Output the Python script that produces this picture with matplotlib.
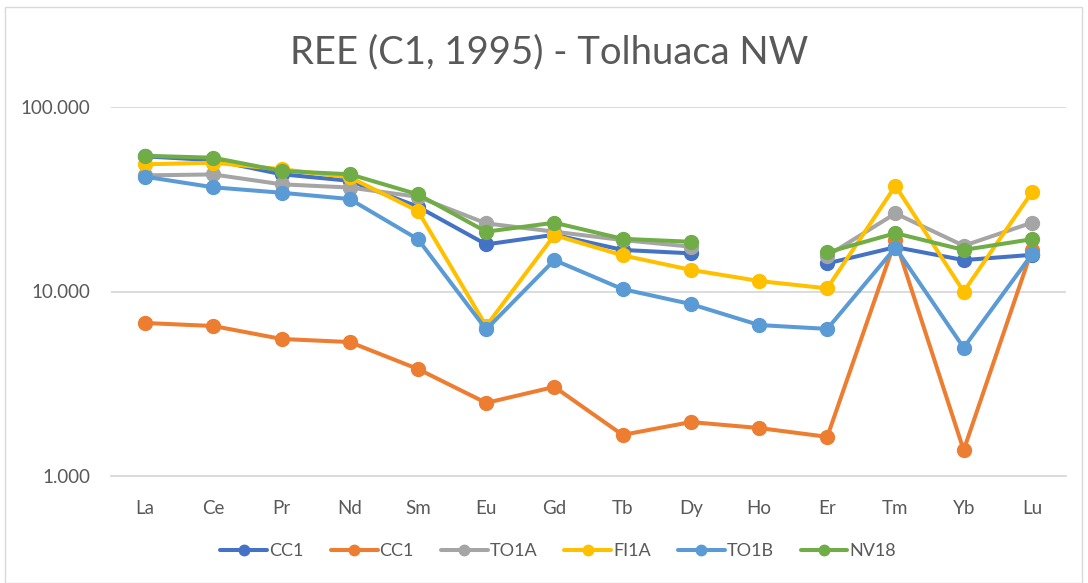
import numpy as np
import matplotlib
matplotlib.use('Agg')
import matplotlib.pyplot as plt
from matplotlib.patches import Rectangle

elements = ['La', 'Ce', 'Pr', 'Nd', 'Sm', 'Eu', 'Gd', 'Tb', 'Dy', 'Ho', 'Er', 'Tm', 'Yb', 'Lu']
nan = np.nan

# chondrite-normalised values (Ho missing for some samples)
cc1_a = [54.0, 51.5, 43.2, 39.8, 28.8, 18.0, 20.3, 16.8, 16.1, nan, 14.2, 17.4, 14.8, 15.8]
cc1_b = [6.75, 6.5, 5.53, 5.32, 3.8, 2.49, 3.04, 1.67, 1.96, 1.82, 1.63, 19.0, 1.38, 16.8]
to1a = [42.6, 43.1, 38.1, 36.6, 32.6, 23.4, 21.1, 19.0, 17.5, nan, 15.6, 26.5, 17.7, 23.6]
fi1a = [48.9, 49.9, 46.0, 41.6, 27.3, 6.5, 20.2, 15.7, 13.1, 11.4, 10.4, 37.4, 9.98, 34.5]
to1b = [41.9, 36.7, 34.3, 31.7, 19.2, 6.23, 14.8, 10.3, 8.55, 6.58, 6.27, 17.3, 4.96, 15.9]
nv18 = [54.4, 53.1, 45.0, 43.2, 33.6, 21.1, 23.6, 19.3, 18.6, nan, 16.3, 20.7, 16.8, 19.2]

series = [('CC1', cc1_a, '#4472C4'),
          ('CC1', cc1_b, '#ED7D31'),
          ('TO1A', to1a, '#A5A5A5'),
          ('FI1A', fi1a, '#FFC000'),
          ('TO1B', to1b, '#5B9BD5'),
          ('NV18', nv18, '#70AD47')]

plt.rcParams['font.family'] = ['Lato', 'DejaVu Sans']
txt = '#595959'

fig = plt.figure(figsize=(10.88, 5.83), dpi=100)
fig.patches.append(Rectangle((5 / 1088, 0), 1077 / 1088, 1 - 7 / 583, transform=fig.transFigure,
                             fill=False, edgecolor='#d9d9d9', linewidth=1))
ax = fig.add_axes([111 / 1088, 1 - 476 / 583, 955 / 1088, 369 / 583])

x = np.arange(len(elements))
for name, vals, col in series:
    ax.plot(x, vals, color=col, lw=2.9, marker='o', ms=10, label=name, solid_capstyle='round')

ax.set_yscale('log')
ax.set_ylim(1, 100)
ax.set_xlim(-0.5, len(elements) - 0.5)
ax.set_yticks([1, 10, 100])
ax.set_yticklabels(['1.000', '10.000', '100.000'])
ax.yaxis.set_minor_locator(matplotlib.ticker.NullLocator())
ax.set_xticks(x)
ax.set_xticklabels(elements)
ax.tick_params(length=0, labelsize=13.5, colors=txt)
ax.tick_params(axis='y', pad=15)
ax.tick_params(axis='x', pad=17)
ax.grid(axis='y', color='#d9d9d9', lw=1.3)
ax.set_axisbelow(True)
for s in ['top', 'right', 'left']:
    ax.spines[s].set_visible(False)
ax.spines['bottom'].set_color('#d9d9d9')
ax.spines['bottom'].set_linewidth(1.3)

fig.text(0.505, 1 - 52 / 583, 'REE (C1, 1995) - Tolhuaca NW', ha='center', va='center',
         fontsize=27.5, color=txt)

fig.legend(loc='center', bbox_to_anchor=(0.513, 1 - 551 / 583), ncol=6, frameon=False,
           fontsize=13, labelcolor=txt, handlelength=2.6, handletextpad=0.1,
           columnspacing=1.5, markerscale=0.75)

fig.savefig('out.png', dpi=100)
